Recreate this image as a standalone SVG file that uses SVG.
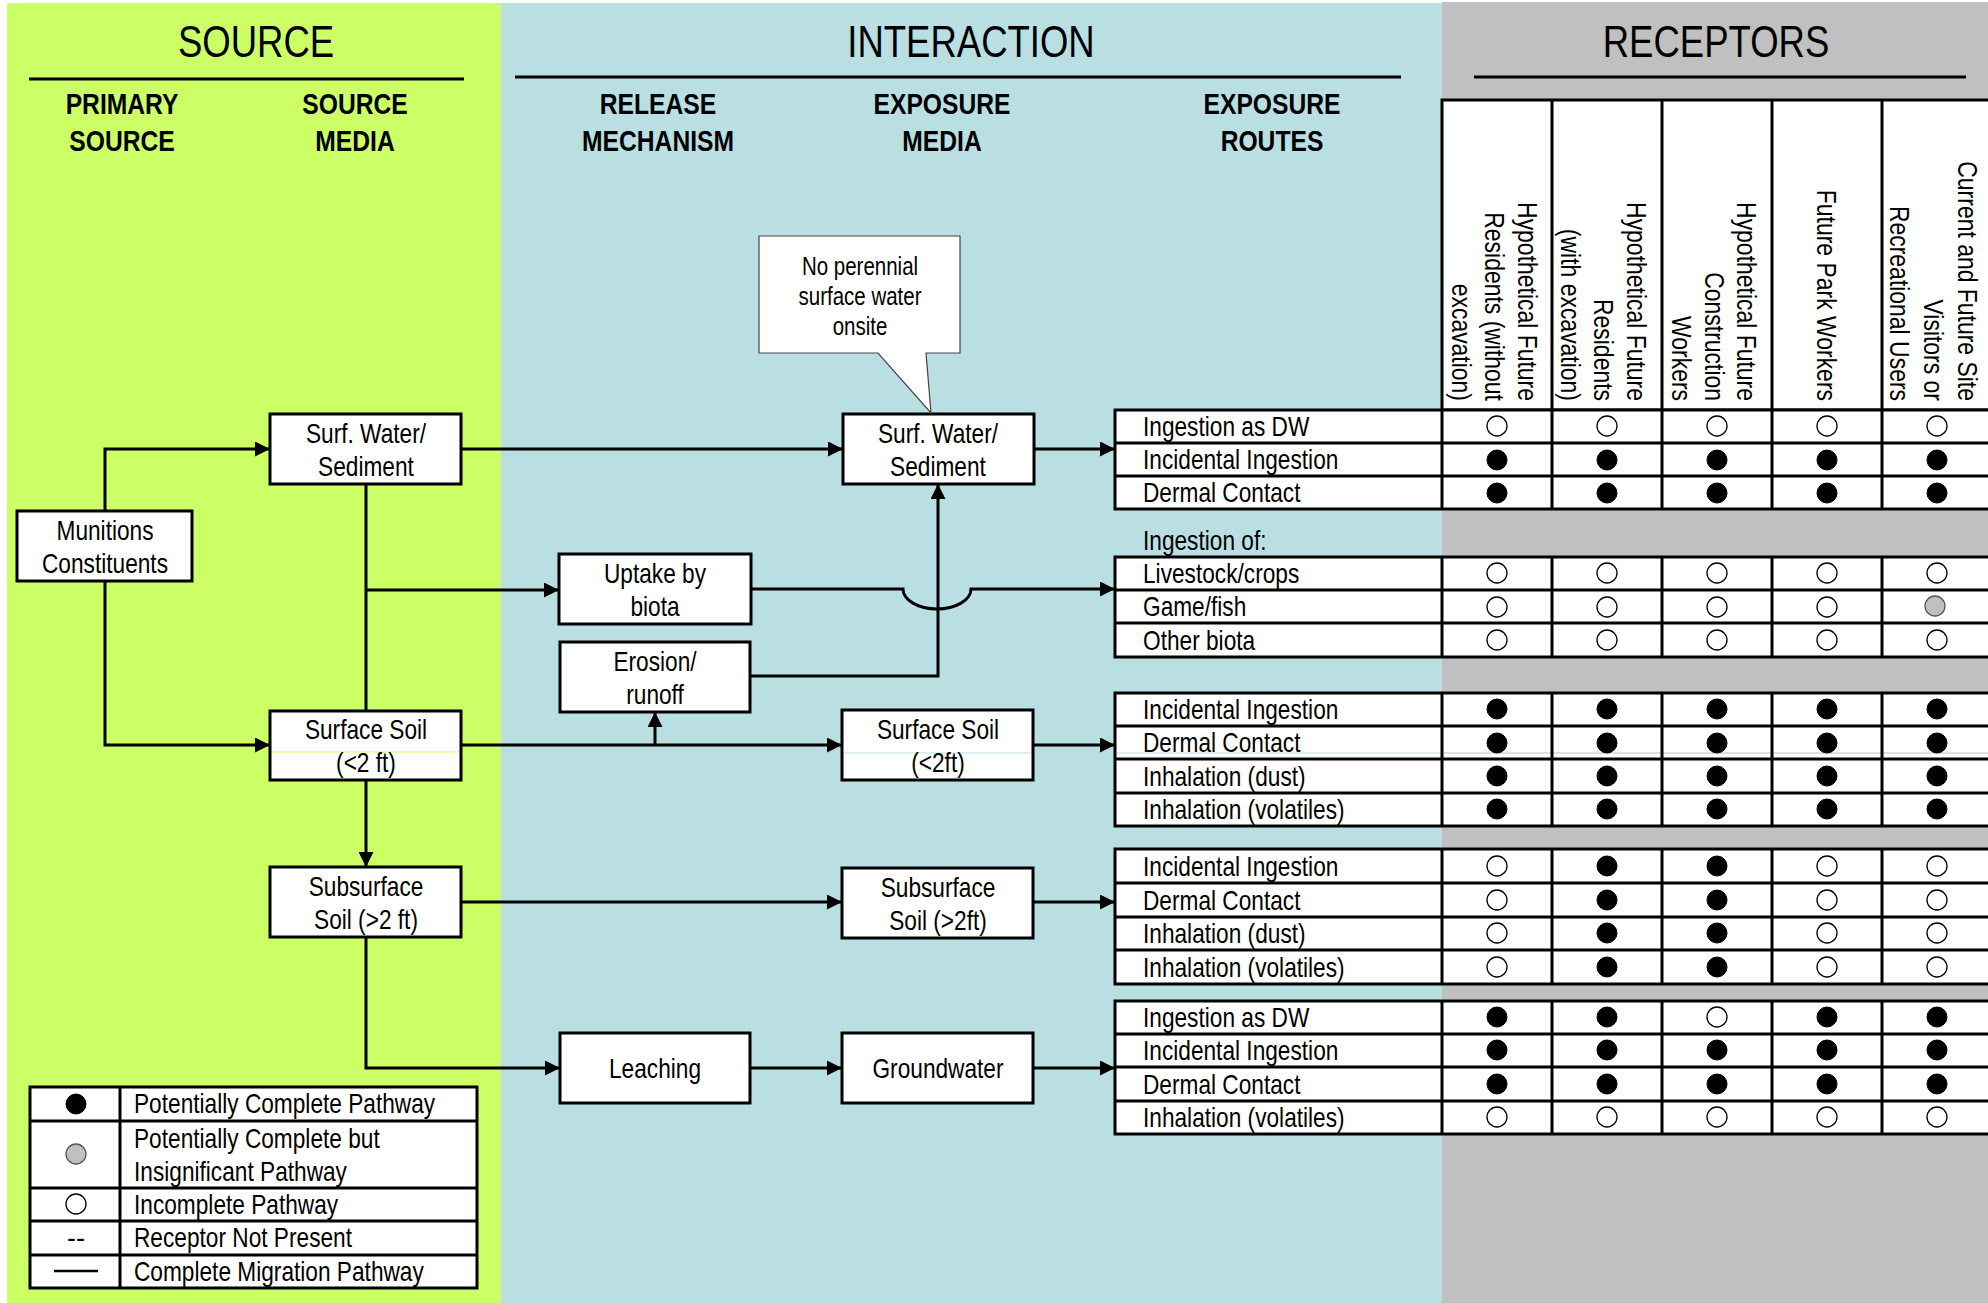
<svg xmlns="http://www.w3.org/2000/svg" width="1988" height="1303" viewBox="0 0 1988 1303">
<style>
text{font-family:"Liberation Sans Narrow","Arial Narrow","Liberation Sans",Arial,sans-serif;fill:#000}
.title{font-size:44px;text-anchor:middle}
.sub{font-size:29px;font-weight:bold;text-anchor:middle}
.bt{font-size:27px;text-anchor:middle}
.ct{font-size:25px;text-anchor:middle}
.rt{font-size:27px}
.rh{font-size:27px;text-anchor:end}
.box{fill:#fff;stroke:#000;stroke-width:3}
.ln{stroke:#000;stroke-width:3;fill:none}
.con{stroke:#000;stroke-width:3;fill:none}
.cell{fill:#fff;stroke:#000;stroke-width:3}
.o{fill:#fff;stroke:#000;stroke-width:1.3}
.f{fill:#000;stroke:#000;stroke-width:1}
.g{fill:#c0c0c0;stroke:#555;stroke-width:1.3}
</style>
<defs>
<marker id="ah" viewBox="0 0 10 10" refX="10" refY="5" markerWidth="16" markerHeight="15" markerUnits="userSpaceOnUse" orient="auto"><path d="M0,0 L10,5 L0,10 z" fill="#000"/></marker>
</defs>
<rect x="0" y="0" width="1988" height="1303" fill="#fff"/>
<rect x="7" y="3" width="494" height="1300" fill="#ccff66"/>
<rect x="501" y="3" width="941" height="1300" fill="#badfe3"/>
<rect x="1442" y="2" width="546" height="1301" fill="#c0c0c0"/>

<g id="headers">
<text class="title" transform="translate(256,57) scale(.83,1)">SOURCE</text>
<line class="ln" x1="29" y1="79" x2="464" y2="79"/>
<text class="title" transform="translate(971,57) scale(.83,1)">INTERACTION</text>
<line class="ln" x1="515" y1="77" x2="1401" y2="77"/>
<text class="title" transform="translate(1716,57) scale(.83,1)">RECEPTORS</text>
<line class="ln" x1="1474" y1="77" x2="1966" y2="77"/>
<text class="sub" transform="translate(122,114) scale(.85,1)">PRIMARY</text><text class="sub" transform="translate(122,151) scale(.85,1)">SOURCE</text>
<text class="sub" transform="translate(355,114) scale(.85,1)">SOURCE</text><text class="sub" transform="translate(355,151) scale(.85,1)">MEDIA</text>
<text class="sub" transform="translate(658,114) scale(.85,1)">RELEASE</text><text class="sub" transform="translate(658,151) scale(.85,1)">MECHANISM</text>
<text class="sub" transform="translate(942,114) scale(.85,1)">EXPOSURE</text><text class="sub" transform="translate(942,151) scale(.85,1)">MEDIA</text>
<text class="sub" transform="translate(1272,114) scale(.85,1)">EXPOSURE</text><text class="sub" transform="translate(1272,151) scale(.85,1)">ROUTES</text>
</g>

<g id="connectors">
<path class="con" d="M105,511 V449 H270" marker-end="url(#ah)"/>
<path class="con" d="M105,581 V745 H270" marker-end="url(#ah)"/>
<path class="con" d="M461,449 H843" marker-end="url(#ah)"/>
<path class="con" d="M366,484 V711"/>
<path class="con" d="M366,590 H559" marker-end="url(#ah)"/>
<path class="con" d="M751,589 H903 A34,20 0 0 0 971,589 H1115" marker-end="url(#ah)"/>
<path class="con" d="M750,676 H938 V484" marker-end="url(#ah)"/>
<path class="con" d="M461,745 H842" marker-end="url(#ah)"/>
<path class="con" d="M655,745 V712" marker-end="url(#ah)"/>
<path class="con" d="M1034,449 H1115" marker-end="url(#ah)"/>
<path class="con" d="M1033,745 H1115" marker-end="url(#ah)"/>
<path class="con" d="M366,780 V867" marker-end="url(#ah)"/>
<path class="con" d="M461,902 H842" marker-end="url(#ah)"/>
<path class="con" d="M1033,902 H1115" marker-end="url(#ah)"/>
<path class="con" d="M366,937 V1068 H560" marker-end="url(#ah)"/>
<path class="con" d="M750,1068 H842" marker-end="url(#ah)"/>
<path class="con" d="M1033,1068 H1115" marker-end="url(#ah)"/>
</g>

<g id="munitions"><rect class="box" x="17" y="511" width="175" height="70"/><text class="bt" transform="translate(105,540) scale(.84,1)">Munitions</text><text class="bt" transform="translate(105,573) scale(.84,1)">Constituents</text></g>
<g id="src-surfwater"><rect class="box" x="270" y="414" width="191" height="70"/><text class="bt" transform="translate(366,443) scale(.84,1)">Surf. Water/</text><text class="bt" transform="translate(366,476) scale(.84,1)">Sediment</text></g>
<g id="src-surfsoil"><rect class="box" x="270" y="711" width="191" height="69"/><line x1="272" y1="752" x2="459" y2="752" stroke="#ccff66" stroke-width="1"/><text class="bt" transform="translate(366,739) scale(.84,1)">Surface Soil</text><text class="bt" transform="translate(366,772) scale(.84,1)">(&lt;2 ft)</text></g>
<g id="src-subsoil"><rect class="box" x="270" y="867" width="191" height="70"/><text class="bt" transform="translate(366,896) scale(.84,1)">Subsurface</text><text class="bt" transform="translate(366,929) scale(.84,1)">Soil (&gt;2 ft)</text></g>
<g id="uptake"><rect class="box" x="559" y="554" width="192" height="70"/><text class="bt" transform="translate(655,583) scale(.84,1)">Uptake by</text><text class="bt" transform="translate(655,616) scale(.84,1)">biota</text></g>
<g id="erosion"><rect class="box" x="560" y="642" width="190" height="70"/><text class="bt" transform="translate(655,671) scale(.84,1)">Erosion/</text><text class="bt" transform="translate(655,704) scale(.84,1)">runoff</text></g>
<g id="leaching"><rect class="box" x="560" y="1033" width="190" height="70"/><text class="bt" transform="translate(655,1078) scale(.84,1)">Leaching</text></g>
<g id="exp-surfwater"><rect class="box" x="843" y="414" width="191" height="70"/><text class="bt" transform="translate(938,443) scale(.84,1)">Surf. Water/</text><text class="bt" transform="translate(938,476) scale(.84,1)">Sediment</text></g>
<g id="exp-surfsoil"><rect class="box" x="842" y="710" width="191" height="70"/><line x1="844" y1="753" x2="1031" y2="753" stroke="#badfe3" stroke-width="1"/><text class="bt" transform="translate(938,739) scale(.84,1)">Surface Soil</text><text class="bt" transform="translate(938,772) scale(.84,1)">(&lt;2ft)</text></g>
<g id="exp-subsoil"><rect class="box" x="842" y="868" width="191" height="70"/><text class="bt" transform="translate(938,897) scale(.84,1)">Subsurface</text><text class="bt" transform="translate(938,930) scale(.84,1)">Soil (&gt;2ft)</text></g>
<g id="groundwater"><rect class="box" x="842" y="1033" width="191" height="70"/><text class="bt" transform="translate(938,1078) scale(.84,1)">Groundwater</text></g>

<g id="callout">
<path d="M759,236 H960 V353 H926 L931,413 L878,353 H759 Z" fill="#fff" stroke="#444" stroke-width="1.2"/>
<text class="ct" transform="translate(860,275) scale(.82,1)">No perennial</text><text class="ct" transform="translate(860,305) scale(.82,1)">surface water</text><text class="ct" transform="translate(860,335) scale(.82,1)">onsite</text>
</g>

<g id="receptor-header">
<rect x="1442" y="100" width="560" height="310" fill="#fff" stroke="#000" stroke-width="3"/>
<path class="ln" d="M1552,100 V410 M1662,100 V410 M1772,100 V410 M1882,100 V410"/>
<text class="rh" transform="translate(1518,401) rotate(90) scale(.85,1)">Hypothetical Future</text>
<text class="rh" transform="translate(1485,401) rotate(90) scale(.85,1)">Residents (without</text>
<text class="rh" transform="translate(1452,401) rotate(90) scale(.85,1)">excavation)</text>
<text class="rh" transform="translate(1627,401) rotate(90) scale(.85,1)">Hypothetical Future</text>
<text class="rh" transform="translate(1594,401) rotate(90) scale(.85,1)">Residents</text>
<text class="rh" transform="translate(1561,401) rotate(90) scale(.85,1)">(with excavation)</text>
<text class="rh" transform="translate(1737,401) rotate(90) scale(.85,1)">Hypothetical Future</text>
<text class="rh" transform="translate(1705,401) rotate(90) scale(.85,1)">Construction</text>
<text class="rh" transform="translate(1672,401) rotate(90) scale(.85,1)">Workers</text>
<text class="rh" transform="translate(1817,401) rotate(90) scale(.85,1)">Future Park Workers</text>
<text class="rh" transform="translate(1958,401) rotate(90) scale(.85,1)">Current and Future Site</text>
<text class="rh" transform="translate(1924,401) rotate(90) scale(.85,1)">Visitors or</text>
<text class="rh" transform="translate(1890,401) rotate(90) scale(.85,1)">Recreational Users</text>
</g>

<g id="table1">
<rect class="cell" x="1115" y="410" width="890" height="99"/>
<path class="ln" d="M1115,443 H2000 M1115,476 H2000 M1442,410 V509 M1552,410 V509 M1662,410 V509 M1772,410 V509 M1882,410 V509"/>
<text class="rt" transform="translate(1143,436) scale(.84,1)">Ingestion as DW</text>
<text class="rt" transform="translate(1143,469) scale(.84,1)">Incidental Ingestion</text>
<text class="rt" transform="translate(1143,502) scale(.84,1)">Dermal Contact</text>
<circle class="o" cx="1497" cy="426" r="10"/><circle class="o" cx="1607" cy="426" r="10"/><circle class="o" cx="1717" cy="426" r="10"/><circle class="o" cx="1827" cy="426" r="10"/><circle class="o" cx="1937" cy="426" r="10"/>
<circle class="f" cx="1497" cy="460" r="10"/><circle class="f" cx="1607" cy="460" r="10"/><circle class="f" cx="1717" cy="460" r="10"/><circle class="f" cx="1827" cy="460" r="10"/><circle class="f" cx="1937" cy="460" r="10"/>
<circle class="f" cx="1497" cy="493" r="10"/><circle class="f" cx="1607" cy="493" r="10"/><circle class="f" cx="1717" cy="493" r="10"/><circle class="f" cx="1827" cy="493" r="10"/><circle class="f" cx="1937" cy="493" r="10"/>
</g>

<g id="table2">
<text class="rt" transform="translate(1143,550) scale(.84,1)">Ingestion of:</text>
<rect class="cell" x="1115" y="557" width="890" height="100"/>
<path class="ln" d="M1115,590 H2000 M1115,623 H2000 M1442,557 V657 M1552,557 V657 M1662,557 V657 M1772,557 V657 M1882,557 V657"/>
<text class="rt" transform="translate(1143,583) scale(.84,1)">Livestock/crops</text>
<text class="rt" transform="translate(1143,616) scale(.84,1)">Game/fish</text>
<text class="rt" transform="translate(1143,650) scale(.84,1)">Other biota</text>
<circle class="o" cx="1497" cy="573" r="10"/><circle class="o" cx="1607" cy="573" r="10"/><circle class="o" cx="1717" cy="573" r="10"/><circle class="o" cx="1827" cy="573" r="10"/><circle class="o" cx="1937" cy="573" r="10"/>
<circle class="o" cx="1497" cy="607" r="10"/><circle class="o" cx="1607" cy="607" r="10"/><circle class="o" cx="1717" cy="607" r="10"/><circle class="o" cx="1827" cy="607" r="10"/><circle class="g" cx="1935" cy="606" r="10"/>
<circle class="o" cx="1497" cy="640" r="10"/><circle class="o" cx="1607" cy="640" r="10"/><circle class="o" cx="1717" cy="640" r="10"/><circle class="o" cx="1827" cy="640" r="10"/><circle class="o" cx="1937" cy="640" r="10"/>
</g>

<g id="table3">
<rect class="cell" x="1115" y="693" width="890" height="133"/>
<line x1="1117" y1="753" x2="1441" y2="753" stroke="#badfe3" stroke-width="1"/>
<line x1="1443" y1="753" x2="2000" y2="753" stroke="#c0c0c0" stroke-width="1"/>
<path class="ln" d="M1115,726 H2000 M1115,759 H2000 M1115,793 H2000 M1442,693 V826 M1552,693 V826 M1662,693 V826 M1772,693 V826 M1882,693 V826"/>
<text class="rt" transform="translate(1143,719) scale(.84,1)">Incidental Ingestion</text>
<text class="rt" transform="translate(1143,752) scale(.84,1)">Dermal Contact</text>
<text class="rt" transform="translate(1143,786) scale(.84,1)">Inhalation (dust)</text>
<text class="rt" transform="translate(1143,819) scale(.84,1)">Inhalation (volatiles)</text>
<circle class="f" cx="1497" cy="709" r="10"/><circle class="f" cx="1607" cy="709" r="10"/><circle class="f" cx="1717" cy="709" r="10"/><circle class="f" cx="1827" cy="709" r="10"/><circle class="f" cx="1937" cy="709" r="10"/>
<circle class="f" cx="1497" cy="743" r="10"/><circle class="f" cx="1607" cy="743" r="10"/><circle class="f" cx="1717" cy="743" r="10"/><circle class="f" cx="1827" cy="743" r="10"/><circle class="f" cx="1937" cy="743" r="10"/>
<circle class="f" cx="1497" cy="776" r="10"/><circle class="f" cx="1607" cy="776" r="10"/><circle class="f" cx="1717" cy="776" r="10"/><circle class="f" cx="1827" cy="776" r="10"/><circle class="f" cx="1937" cy="776" r="10"/>
<circle class="f" cx="1497" cy="809" r="10"/><circle class="f" cx="1607" cy="809" r="10"/><circle class="f" cx="1717" cy="809" r="10"/><circle class="f" cx="1827" cy="809" r="10"/><circle class="f" cx="1937" cy="809" r="10"/>
</g>

<g id="table4">
<rect class="cell" x="1115" y="849" width="890" height="135"/>
<path class="ln" d="M1115,883 H2000 M1115,917 H2000 M1115,950 H2000 M1442,849 V984 M1552,849 V984 M1662,849 V984 M1772,849 V984 M1882,849 V984"/>
<text class="rt" transform="translate(1143,876) scale(.84,1)">Incidental Ingestion</text>
<text class="rt" transform="translate(1143,910) scale(.84,1)">Dermal Contact</text>
<text class="rt" transform="translate(1143,943) scale(.84,1)">Inhalation (dust)</text>
<text class="rt" transform="translate(1143,977) scale(.84,1)">Inhalation (volatiles)</text>
<circle class="o" cx="1497" cy="866" r="10"/><circle class="f" cx="1607" cy="866" r="10"/><circle class="f" cx="1717" cy="866" r="10"/><circle class="o" cx="1827" cy="866" r="10"/><circle class="o" cx="1937" cy="866" r="10"/>
<circle class="o" cx="1497" cy="900" r="10"/><circle class="f" cx="1607" cy="900" r="10"/><circle class="f" cx="1717" cy="900" r="10"/><circle class="o" cx="1827" cy="900" r="10"/><circle class="o" cx="1937" cy="900" r="10"/>
<circle class="o" cx="1497" cy="933" r="10"/><circle class="f" cx="1607" cy="933" r="10"/><circle class="f" cx="1717" cy="933" r="10"/><circle class="o" cx="1827" cy="933" r="10"/><circle class="o" cx="1937" cy="933" r="10"/>
<circle class="o" cx="1497" cy="967" r="10"/><circle class="f" cx="1607" cy="967" r="10"/><circle class="f" cx="1717" cy="967" r="10"/><circle class="o" cx="1827" cy="967" r="10"/><circle class="o" cx="1937" cy="967" r="10"/>
</g>

<g id="table5">
<rect class="cell" x="1115" y="1001" width="890" height="133"/>
<path class="ln" d="M1115,1034 H2000 M1115,1067 H2000 M1115,1101 H2000 M1442,1001 V1134 M1552,1001 V1134 M1662,1001 V1134 M1772,1001 V1134 M1882,1001 V1134"/>
<text class="rt" transform="translate(1143,1027) scale(.84,1)">Ingestion as DW</text>
<text class="rt" transform="translate(1143,1060) scale(.84,1)">Incidental Ingestion</text>
<text class="rt" transform="translate(1143,1094) scale(.84,1)">Dermal Contact</text>
<text class="rt" transform="translate(1143,1127) scale(.84,1)">Inhalation (volatiles)</text>
<circle class="f" cx="1497" cy="1017" r="10"/><circle class="f" cx="1607" cy="1017" r="10"/><circle class="o" cx="1717" cy="1017" r="10"/><circle class="f" cx="1827" cy="1017" r="10"/><circle class="f" cx="1937" cy="1017" r="10"/>
<circle class="f" cx="1497" cy="1050" r="10"/><circle class="f" cx="1607" cy="1050" r="10"/><circle class="f" cx="1717" cy="1050" r="10"/><circle class="f" cx="1827" cy="1050" r="10"/><circle class="f" cx="1937" cy="1050" r="10"/>
<circle class="f" cx="1497" cy="1084" r="10"/><circle class="f" cx="1607" cy="1084" r="10"/><circle class="f" cx="1717" cy="1084" r="10"/><circle class="f" cx="1827" cy="1084" r="10"/><circle class="f" cx="1937" cy="1084" r="10"/>
<circle class="o" cx="1497" cy="1117" r="10"/><circle class="o" cx="1607" cy="1117" r="10"/><circle class="o" cx="1717" cy="1117" r="10"/><circle class="o" cx="1827" cy="1117" r="10"/><circle class="o" cx="1937" cy="1117" r="10"/>
</g>

<g id="legend">
<rect class="cell" x="30" y="1087" width="447" height="201"/>
<path class="ln" d="M30,1121 H477 M30,1188 H477 M30,1221 H477 M30,1255 H477 M120,1087 V1288"/>
<circle class="f" cx="76" cy="1104" r="10"/>
<circle class="g" cx="76" cy="1154" r="10"/>
<circle class="o" cx="76" cy="1204" r="10"/>
<text class="rt" x="76" y="1247" text-anchor="middle">--</text>
<line x1="54" y1="1271" x2="98" y2="1271" stroke="#000" stroke-width="2.5"/>
<text class="rt" transform="translate(134,1113) scale(.84,1)">Potentially Complete Pathway</text>
<text class="rt" transform="translate(134,1148) scale(.84,1)">Potentially Complete but</text>
<text class="rt" transform="translate(134,1181) scale(.84,1)">Insignificant Pathway</text>
<text class="rt" transform="translate(134,1214) scale(.84,1)">Incomplete Pathway</text>
<text class="rt" transform="translate(134,1247) scale(.84,1)">Receptor Not Present</text>
<text class="rt" transform="translate(134,1281) scale(.84,1)">Complete Migration Pathway</text>
</g>
</svg>
